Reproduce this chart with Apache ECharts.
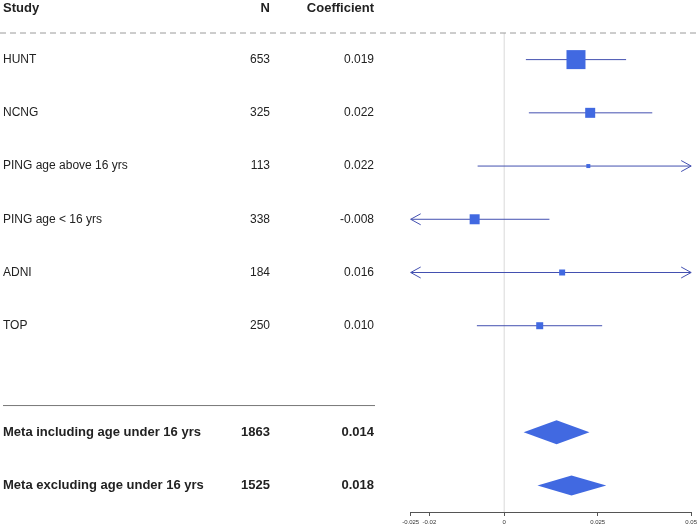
<!DOCTYPE html>
<html><head><meta charset="utf-8">
<script src="https://cdn.jsdelivr.net/npm/echarts@6/dist/echarts.min.js"></script>
<style>html,body{margin:0;padding:0;background:#fff}#c{width:700px;height:527px}</style>
</head><body><div id="c"></div>
<script>
// ---- data ----
const studies = ['HUNT', 'NCNG', 'PING age above 16 yrs', 'PING age < 16 yrs', 'ADNI', 'TOP'];
const studyN = [653, 325, 113, 338, 184, 250];
const studyCoefLabel = ['0.019', '0.022', '0.022', '-0.008', '0.016', '0.010'];
const studyEst = [0.0192, 0.0230, 0.0225, -0.0079, 0.0155, 0.0095];
const studyLow = [0.0058, 0.0066, -0.0071, -0.0290, -0.0300, -0.0073];
const studyHigh = [0.0326, 0.0396, 0.0560, 0.0121, 0.0620, 0.0262];
const studyRows = [0, 1, 2, 3, 4, 5];

const metas = ['Meta including age under 16 yrs', 'Meta excluding age under 16 yrs'];
const metaN = [1863, 1525];
const metaCoefLabel = ['0.014', '0.018'];
const metaEst = [0.0140, 0.0180];
const metaLow = [0.0052, 0.0089];
const metaHigh = [0.0228, 0.0273];
const metaRows = [7, 8];

const tickValues = [-0.025, -0.02, 0, 0.025, 0.05];
const headers = ['Study', 'N', 'Coefficient'];

// ---- styles ----
const markerSizes = [19, 10, 4, 10, 6, 7];
const diamondHalfHeights = [12, 10];
const X_MIN = -0.025, X_MAX = 0.05;
const FONT = '"Liberation Sans", Arial, Helvetica, sans-serif';
const lineColor = '#4350b0';
const boxColor = '#4169e1';
const textColor = '#222';

const chart = echarts.init(document.getElementById('c'));

const studyData = studies.map((s, i) => [studyEst[i], studyRows[i], studyLow[i], studyHigh[i], markerSizes[i]]);
const metaData = metas.map((s, i) => [metaEst[i], metaRows[i], metaLow[i], metaHigh[i], diamondHalfHeights[i]]);

function renderCI(params, api) {
  const est = api.value(0), row = api.value(1), lo = api.value(2), hi = api.value(3), sz = api.value(4);
  const c = api.coord([est, row]);
  const pL = api.coord([Math.max(lo, X_MIN), row]);
  const pR = api.coord([Math.min(hi, X_MAX), row]);
  const children = [];
  children.push({ type: 'line', shape: { x1: pL[0], y1: c[1], x2: pR[0], y2: c[1] }, style: { stroke: lineColor, lineWidth: 1 } });
  if (lo < X_MIN) {
    children.push({ type: 'polyline', shape: { points: [[pL[0] + 10, c[1] - 5.5], [pL[0], c[1]], [pL[0] + 10, c[1] + 5.5]] }, style: { stroke: lineColor, lineWidth: 1, fill: null } });
  }
  if (hi > X_MAX) {
    children.push({ type: 'polyline', shape: { points: [[pR[0] - 10, c[1] - 5.5], [pR[0], c[1]], [pR[0] - 10, c[1] + 5.5]] }, style: { stroke: lineColor, lineWidth: 1, fill: null } });
  }
  children.push({ type: 'rect', shape: { x: c[0] - sz / 2, y: c[1] - sz / 2, width: sz, height: sz }, style: { fill: boxColor } });
  return { type: 'group', children };
}

function renderDiamond(params, api) {
  const est = api.value(0), row = api.value(1), lo = api.value(2), hi = api.value(3), h = api.value(4);
  const c = api.coord([est, row]);
  const l = api.coord([lo, row]);
  const r = api.coord([hi, row]);
  return { type: 'polygon', shape: { points: [[l[0], c[1]], [c[0], c[1] - h], [r[0], c[1]], [c[0], c[1] + h]] }, style: { fill: boxColor } };
}

// table rows: [row, studyName, N, coef, bold]
const tableData = [];
studies.forEach((s, i) => tableData.push([studyRows[i], s, String(studyN[i]), studyCoefLabel[i], 0]));
metas.forEach((s, i) => tableData.push([metaRows[i], s, String(metaN[i]), metaCoefLabel[i], 1]));

function renderTable(params, api) {
  const row = api.value(0);
  const y = api.coord([0, row])[1];
  const d = tableData[params.dataIndex];
  const bold = d[4] === 1;
  const font = (bold ? 'bold 13px ' : '12px ') + FONT;
  return {
    type: 'group',
    children: [
      { type: 'text', style: { text: d[1], x: 3, y: y, font, fill: textColor, align: 'left', verticalAlign: 'middle' } },
      { type: 'text', style: { text: d[2], x: 270, y: y, font, fill: textColor, align: 'right', verticalAlign: 'middle' } },
      { type: 'text', style: { text: d[3], x: 374, y: y, font, fill: textColor, align: 'right', verticalAlign: 'middle' } }
    ]
  };
}

function renderDecor(params, api) {
  const top = api.coord([0, -0.5]);
  const bot = api.coord([0, 8.5]);
  const sep = api.coord([0, 6.5]);
  const font = 'bold 13px ' + FONT;
  const headY = 8;
  return {
    type: 'group',
    children: [
      { type: 'line', shape: { x1: top[0], y1: top[1], x2: bot[0], y2: bot[1] }, style: { stroke: '#d9d9d9', lineWidth: 1 } },
      { type: 'line', shape: { x1: 0, y1: top[1], x2: 700, y2: top[1] }, style: { stroke: '#9a9a9a', lineWidth: 1, lineDash: [6, 4] } },
      { type: 'line', shape: { x1: 3, y1: sep[1], x2: 375, y2: sep[1] }, style: { stroke: '#777', lineWidth: 1 } },
      { type: 'text', style: { text: headers[0], x: 3, y: headY, font, fill: textColor, align: 'left', verticalAlign: 'middle' } },
      { type: 'text', style: { text: headers[1], x: 270, y: headY, font, fill: textColor, align: 'right', verticalAlign: 'middle' } },
      { type: 'text', style: { text: headers[2], x: 374, y: headY, font, fill: textColor, align: 'right', verticalAlign: 'middle' } }
    ]
  };
}

chart.setOption({
  animation: false,
  grid: { left: 410.7, right: 7.7, top: 33, bottom: 15 },
  xAxis: {
    type: 'value', min: X_MIN, max: X_MAX, position: 'bottom',
    splitLine: { show: false },
    axisLine: { show: true, onZero: false, lineStyle: { color: '#555', width: 1 } },
    axisTick: { show: true, customValues: tickValues, length: 4, lineStyle: { color: '#555' } },
    axisLabel: { customValues: tickValues, fontSize: 6, color: '#333', margin: 7, fontFamily: FONT,
      formatter: v => String(+v.toFixed(3)) }
  },
  yAxis: { type: 'value', min: -0.5, max: 8.5, inverse: true, show: false },
  series: [
    { type: 'custom', renderItem: renderDecor, data: [[0, 0]], clip: false, silent: true, z: 1 },
    { type: 'custom', renderItem: renderTable, data: tableData.map(d => [d[0]]), encode: { y: 0 }, clip: false, silent: true, z: 2 },
    { type: 'custom', renderItem: renderCI, data: studyData, encode: { x: 0, y: 1 }, clip: false, z: 3 },
    { type: 'custom', renderItem: renderDiamond, data: metaData, encode: { x: 0, y: 1 }, clip: false, z: 3 }
  ]
});
</script>
</body></html>
